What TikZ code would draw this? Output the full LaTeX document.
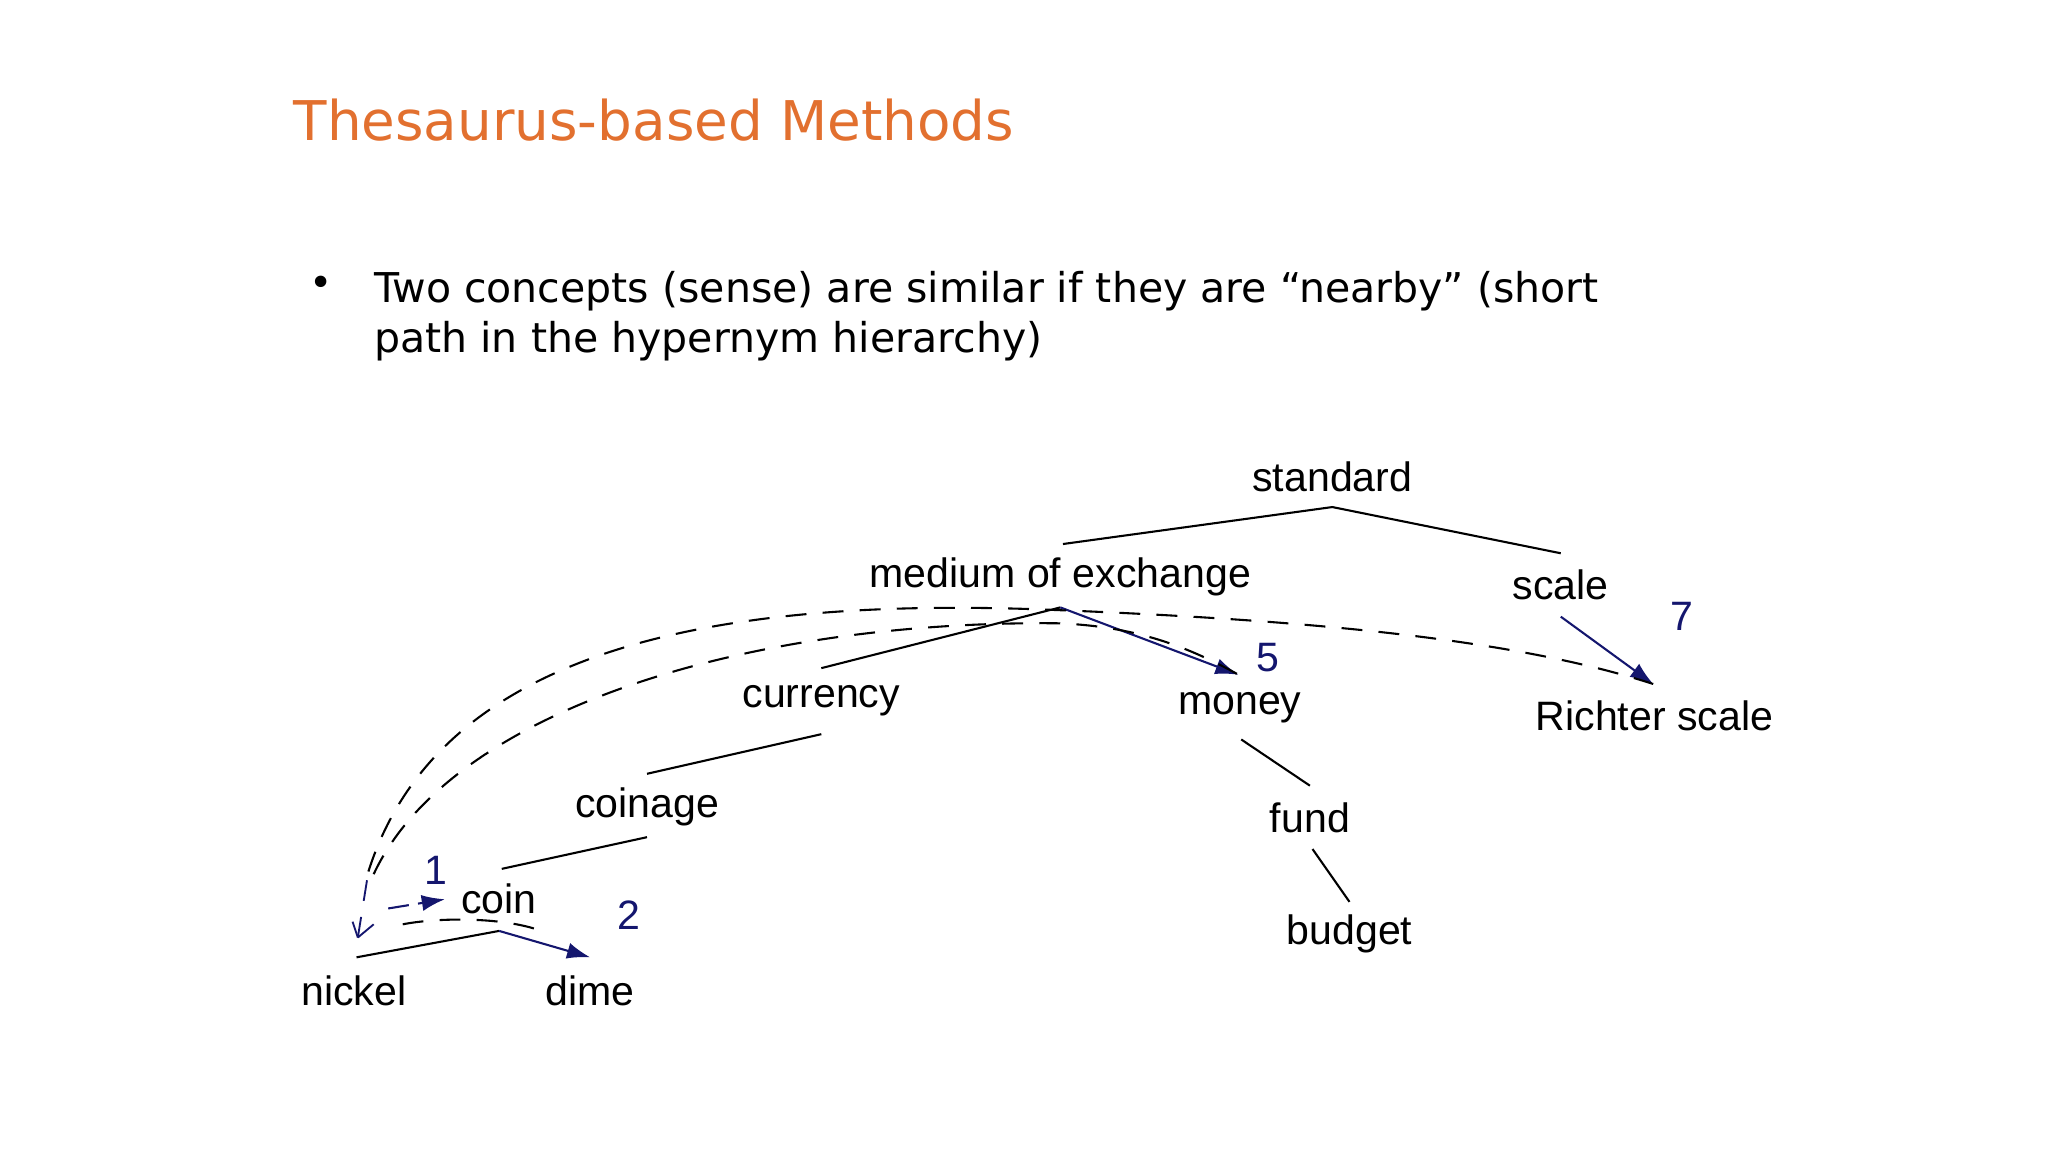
\documentclass[tikz,border=0pt]{standalone}
\usepackage{fontspec}
\setmainfont{Liberation Sans}
\newfontfamily\dv{DejaVu Sans}
\usetikzlibrary{arrows.meta}
\definecolor{ttl}{HTML}{E2702F}
\definecolor{nv}{HTML}{14166E}
\begin{document}
\begin{tikzpicture}[x=0.02cm,y=-0.02cm,
  lbl/.style={font=\fontsize{17.7}{21}\selectfont, inner sep=0pt},
  num/.style={font=\fontsize{17.7}{21}\selectfont, text=nv, inner sep=0pt},
  tree/.style={line width=0.9pt},
  path/.style={line width=0.9pt, dash pattern=on 9pt off 7pt},
  arr/.style={nv, line width=0.9pt, -{Latex[length=10pt,width=7pt]}}]
\useasboundingbox (0,0) rectangle (1551,872);
\node[anchor=west, text=ttl, font=\dv\fontsize{23.6}{28}\selectfont, inner sep=0pt] (title) at (222,91) {Thesaurus-based Methods};
\node[inner sep=0pt, font=\dv\fontsize{17}{20}\selectfont] (dot) at (243,217) {\textbullet};
\node[anchor=north west, align=left, font=\dv\fontsize{17.7}{21.7}\selectfont, inner sep=0pt] (bul) at (283,205) {Two concepts (sense) are similar if they are “nearby” (short\\path in the hypernym hierarchy)};
% nodes
\node[lbl] (standard) at (1009,361) {standard};
\node[lbl] (medium) at (803,437) {medium of exchange};
\node[lbl] (scale) at (1182,443) {scale};
\node[lbl] (currency) at (622,531) {currency};
\node[lbl] (money) at (939,536) {money};
\node[lbl] (richter) at (1253,542) {Richter scale};
\node[lbl] (coinage) at (490,611) {coinage};
\node[lbl] (fund) at (992,619) {fund};
\node[lbl] (coin) at (378,681) {coin};
\node[lbl] (budget) at (1022,707) {budget};
\node[lbl] (nickel) at (268,750) {nickel};
\node[lbl] (dime) at (447,750) {dime};
\node[num] (n1) at (330,659) {1};
\node[num] (n2) at (476,693) {2};
\node[num] (n5) at (960,498) {5};
\node[num] (n7) at (1274,467) {7};
% anchor points
\coordinate (sT) at (1009,384); \coordinate (mL) at (805,412); \coordinate (scT) at (1182,419);
\coordinate (mB) at (803,460); \coordinate (cuT) at (622,506); \coordinate (moT) at (938,511);
\coordinate (cuB) at (622,556); \coordinate (coT) at (490,586);
\coordinate (coB) at (490,634); \coordinate (ciT) at (380,658);
\coordinate (ciB) at (378,705); \coordinate (niT) at (270,725); \coordinate (diT) at (447,725);
\coordinate (scB) at (1182,467); \coordinate (riT) at (1252,518);
\coordinate (moB) at (940,560); \coordinate (fuT) at (992,595);
\coordinate (fuB) at (994,643); \coordinate (buT) at (1022,683);
% tree
\draw[tree] (mL) -- (sT) -- (scT);
\draw[tree] (cuT) -- (mB);
\draw[tree] (cuB) -- (coT);
\draw[tree] (coB) -- (ciT);
\draw[tree] (niT) -- (ciB);
\draw[tree] (moB) -- (fuT);
\draw[tree] (fuB) -- (buT);
% arrows
\draw[arr] (mB) -- (moT);
\draw[arr] (ciB) -- (diT);
\draw[arr] (scB) -- (riT);
\coordinate (nA) at (294,688); \coordinate (cA) at (337,681);
\draw[arr, dash pattern=on 9pt off 4pt] (nA) -- (cA);
% paths
\coordinate (nk) at (271,710);
\draw[path, line width=0.8pt, nv] (nk) -- (279,660);
\draw[nv, line width=0.8pt] (nk) -- ++(-4,-12) (nk) -- ++(12,-10);
\draw[path] (279,660) .. controls (330,500) and (520,450) .. (800,462) .. controls (1000,470) and (1150,485) .. (riT);
\draw[path] (283,662) .. controls (340,540) and (560,470) .. (800,472) .. controls (860,474) and (900,490) .. (moT);
\draw[path] (305,700) .. controls (330,695) and (380,694) .. (410,705);
\end{tikzpicture}
\end{document}
